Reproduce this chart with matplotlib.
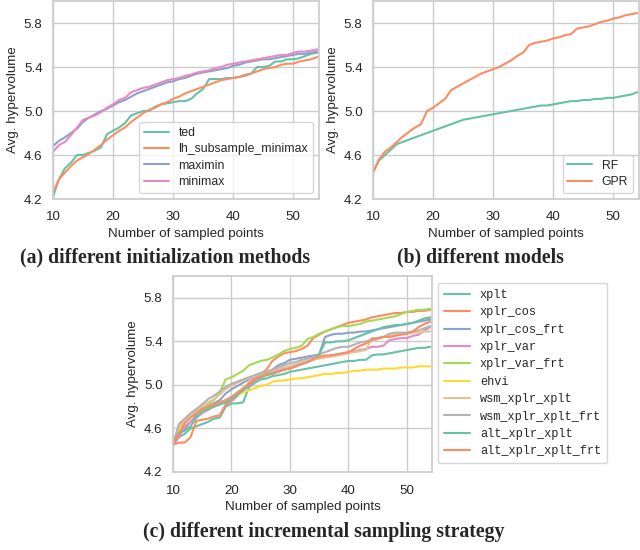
import numpy as np
import matplotlib
matplotlib.use("Agg")
import matplotlib.pyplot as plt
import seaborn as sns

sns.set_theme(style="whitegrid", palette="Set2")
plt.rcParams['font.family'] = ['Liberation Sans', 'DejaVu Sans']

x = list(range(10, 55))

# (a) initialization methods
ted = [4.22, 4.38, 4.48, 4.53, 4.60, 4.60, 4.62, 4.64, 4.67, 4.79, 4.82, 4.85, 4.89, 4.96, 4.98,
       5.00, 5.00, 5.04, 5.06, 5.07, 5.08, 5.09, 5.09, 5.11, 5.16, 5.20, 5.29, 5.29, 5.29, 5.30,
       5.30, 5.31, 5.32, 5.34, 5.40, 5.40, 5.41, 5.45, 5.45, 5.47, 5.47, 5.48, 5.50, 5.52, 5.53]
lh_subsample_minimax = [4.26, 4.38, 4.44, 4.50, 4.55, 4.58, 4.61, 4.65, 4.69, 4.74, 4.78, 4.82, 4.85, 4.90, 4.94,
                        4.98, 5.01, 5.03, 5.06, 5.08, 5.11, 5.13, 5.16, 5.18, 5.20, 5.22, 5.24, 5.26, 5.28, 5.29,
                        5.30, 5.31, 5.33, 5.34, 5.36, 5.38, 5.39, 5.40, 5.42, 5.43, 5.43, 5.45, 5.46, 5.47, 5.49]
maximin = [4.68, 4.73, 4.76, 4.80, 4.84, 4.90, 4.94, 4.97, 5.00, 5.02, 5.05, 5.08, 5.10, 5.13, 5.16,
           5.18, 5.20, 5.22, 5.24, 5.26, 5.27, 5.29, 5.30, 5.32, 5.34, 5.35, 5.36, 5.37, 5.38, 5.39,
           5.41, 5.42, 5.44, 5.45, 5.46, 5.47, 5.47, 5.48, 5.49, 5.50, 5.51, 5.52, 5.52, 5.53, 5.54]
minimax = [4.63, 4.69, 4.72, 4.78, 4.85, 4.92, 4.94, 4.96, 4.99, 5.03, 5.06, 5.10, 5.12, 5.17, 5.19,
           5.21, 5.22, 5.24, 5.26, 5.28, 5.29, 5.30, 5.32, 5.33, 5.35, 5.36, 5.37, 5.39, 5.40, 5.42,
           5.43, 5.44, 5.45, 5.46, 5.47, 5.48, 5.49, 5.50, 5.51, 5.51, 5.53, 5.54, 5.54, 5.55, 5.56]

# (b) models
RF = [4.44, 4.55, 4.60, 4.65, 4.70, 4.72, 4.74, 4.76, 4.78, 4.80, 4.82, 4.84, 4.86, 4.88, 4.90,
      4.92, 4.93, 4.94, 4.95, 4.96, 4.97, 4.98, 4.99, 5.00, 5.01, 5.02, 5.03, 5.04, 5.05, 5.05,
      5.06, 5.07, 5.08, 5.09, 5.09, 5.10, 5.10, 5.11, 5.11, 5.12, 5.12, 5.13, 5.14, 5.15, 5.17]
GPR = [4.44, 4.56, 4.63, 4.67, 4.72, 4.77, 4.81, 4.85, 4.88, 5.00, 5.03, 5.07, 5.11, 5.19, 5.22,
       5.25, 5.28, 5.31, 5.34, 5.36, 5.38, 5.40, 5.43, 5.46, 5.50, 5.53, 5.60, 5.62, 5.63, 5.64,
       5.66, 5.67, 5.69, 5.70, 5.75, 5.76, 5.77, 5.79, 5.81, 5.82, 5.84, 5.85, 5.87, 5.88, 5.89]

# (c) incremental sampling strategies
xplt = [4.45, 4.52, 4.55, 4.60, 4.62, 4.64, 4.66, 4.69, 4.70, 4.80, 4.83, 4.83, 4.84, 4.98, 5.02,
        5.05, 5.06, 5.08, 5.09, 5.10, 5.12, 5.13, 5.14, 5.15, 5.16, 5.17, 5.18, 5.19, 5.20, 5.21,
        5.22, 5.22, 5.23, 5.23, 5.27, 5.28, 5.28, 5.29, 5.30, 5.31, 5.32, 5.33, 5.34, 5.34, 5.35]
xplr_cos = [4.45, 4.47, 4.47, 4.52, 4.67, 4.68, 4.69, 4.71, 4.72, 4.82, 4.85, 4.90, 4.96, 5.02, 5.06,
            5.10, 5.14, 5.22, 5.26, 5.29, 5.30, 5.31, 5.33, 5.36, 5.43, 5.46, 5.49, 5.51, 5.53, 5.55,
            5.57, 5.58, 5.59, 5.60, 5.62, 5.63, 5.64, 5.65, 5.66, 5.66, 5.67, 5.67, 5.68, 5.68, 5.69]
xplr_cos_frt = [4.45, 4.55, 4.60, 4.66, 4.72, 4.76, 4.80, 4.83, 4.86, 4.92, 4.96, 4.99, 5.02, 5.05, 5.08,
                5.10, 5.11, 5.14, 5.18, 5.20, 5.23, 5.24, 5.25, 5.26, 5.27, 5.28, 5.44, 5.46, 5.47, 5.47,
                5.48, 5.48, 5.49, 5.49, 5.50, 5.51, 5.52, 5.53, 5.54, 5.55, 5.56, 5.57, 5.58, 5.59, 5.60]
xplr_var = [4.45, 4.52, 4.62, 4.66, 4.70, 4.74, 4.77, 4.80, 4.82, 4.84, 4.86, 4.90, 4.95, 4.99, 5.04,
            5.07, 5.09, 5.11, 5.13, 5.15, 5.17, 5.18, 5.20, 5.21, 5.23, 5.25, 5.26, 5.27, 5.28, 5.29,
            5.30, 5.31, 5.32, 5.33, 5.35, 5.35, 5.36, 5.41, 5.42, 5.43, 5.43, 5.45, 5.46, 5.50, 5.53]
xplr_var_frt = [4.45, 4.60, 4.66, 4.70, 4.74, 4.78, 4.82, 4.86, 4.93, 5.05, 5.07, 5.10, 5.13, 5.18, 5.20,
                5.22, 5.23, 5.25, 5.28, 5.31, 5.33, 5.34, 5.36, 5.42, 5.44, 5.47, 5.49, 5.51, 5.53, 5.54,
                5.54, 5.55, 5.56, 5.58, 5.59, 5.60, 5.61, 5.62, 5.63, 5.65, 5.67, 5.68, 5.69, 5.69, 5.70]
ehvi = [4.45, 4.58, 4.67, 4.71, 4.74, 4.76, 4.79, 4.81, 4.84, 4.86, 4.88, 4.91, 4.93, 4.95, 4.97,
        4.99, 5.00, 5.03, 5.04, 5.04, 5.05, 5.06, 5.06, 5.07, 5.08, 5.09, 5.10, 5.10, 5.11, 5.11,
        5.12, 5.13, 5.13, 5.14, 5.14, 5.14, 5.15, 5.15, 5.15, 5.16, 5.16, 5.16, 5.17, 5.17, 5.17]
wsm_xplr_xplt = [4.45, 4.62, 4.68, 4.72, 4.76, 4.80, 4.84, 4.87, 4.91, 4.96, 4.99, 5.02, 5.04, 5.06, 5.08,
                 5.10, 5.11, 5.13, 5.15, 5.16, 5.17, 5.19, 5.21, 5.22, 5.23, 5.24, 5.25, 5.26, 5.27, 5.28,
                 5.29, 5.30, 5.31, 5.32, 5.43, 5.43, 5.44, 5.45, 5.46, 5.47, 5.47, 5.48, 5.48, 5.49, 5.49]
wsm_xplr_xplt_frt = [4.45, 4.64, 4.69, 4.74, 4.78, 4.82, 4.87, 4.90, 4.94, 4.98, 5.01, 5.03, 5.05, 5.07, 5.09,
                     5.11, 5.12, 5.14, 5.16, 5.18, 5.20, 5.21, 5.23, 5.24, 5.26, 5.28, 5.30, 5.32, 5.34, 5.35,
                     5.35, 5.37, 5.39, 5.40, 5.41, 5.42, 5.44, 5.47, 5.48, 5.48, 5.48, 5.49, 5.50, 5.52, 5.54]
alt_xplr_xplt = [4.45, 4.56, 4.58, 4.62, 4.70, 4.76, 4.78, 4.80, 4.82, 4.84, 4.87, 4.91, 4.95, 5.00, 5.05,
                 5.07, 5.09, 5.10, 5.12, 5.14, 5.15, 5.17, 5.19, 5.21, 5.24, 5.28, 5.39, 5.39, 5.40, 5.40,
                 5.41, 5.43, 5.45, 5.47, 5.49, 5.51, 5.53, 5.54, 5.55, 5.55, 5.56, 5.57, 5.59, 5.61, 5.62]
alt_xplr_xplt_frt = [4.45, 4.55, 4.65, 4.70, 4.74, 4.78, 4.80, 4.82, 4.84, 4.86, 4.89, 4.93, 4.97, 5.01, 5.05,
                     5.08, 5.10, 5.11, 5.12, 5.14, 5.15, 5.17, 5.19, 5.21, 5.24, 5.26, 5.27, 5.27, 5.28, 5.29,
                     5.30, 5.33, 5.36, 5.38, 5.42, 5.43, 5.44, 5.44, 5.45, 5.46, 5.47, 5.49, 5.53, 5.56, 5.58]

series_a = {"ted": ted, "lh_subsample_minimax": lh_subsample_minimax,
            "maximin": maximin, "minimax": minimax}
series_b = {"RF": RF, "GPR": GPR}
series_c = {"xplt": xplt, "xplr_cos": xplr_cos, "xplr_cos_frt": xplr_cos_frt,
            "xplr_var": xplr_var, "xplr_var_frt": xplr_var_frt, "ehvi": ehvi,
            "wsm_xplr_xplt": wsm_xplr_xplt, "wsm_xplr_xplt_frt": wsm_xplr_xplt_frt,
            "alt_xplr_xplt": alt_xplr_xplt, "alt_xplr_xplt_frt": alt_xplr_xplt_frt}

yticks = [4.2, 4.6, 5.0, 5.4, 5.8]
xticks = [10, 20, 30, 40, 50]
captions = ["(a) different initialization methods", "(b) different models",
            "(c) different incremental sampling strategy"]

colors = sns.color_palette("Set2", 8)

fig = plt.figure(figsize=(6.4, 5.5), dpi=100)
W, H = 640, 550

def make_ax(l, t, r, b):
    return fig.add_axes([l / W, 1 - b / H, (r - l) / W, (b - t) / H])

def style(ax):
    ax.set_xlim(10, 54.3)
    ax.set_ylim(4.2, 6.0)
    ax.set_xticks(xticks)
    ax.set_yticks(yticks)
    ax.tick_params(axis='x', labelsize=9.6, pad=3)
    ax.tick_params(axis='y', labelsize=9.6, pad=1.5)
    ax.set_xlabel("Number of sampled points", fontsize=9.6, labelpad=3)
    ax.set_ylabel("Avg. hypervolume", fontsize=9.6, labelpad=3.5)
    for s in ax.spines.values():
        s.set_color('#cccccc')

ax1 = make_ax(53, 1, 319, 199)
for i, (k, v) in enumerate(series_a.items()):
    ax1.plot(x, v, color=colors[i % 8], lw=1.5, label=k)
style(ax1)
ax1.legend(loc="lower right", fontsize=8.8, handlelength=2.0, borderpad=0.4,
           labelspacing=0.35, frameon=True)

ax2 = make_ax(373, 1, 639, 199)
for i, (k, v) in enumerate(series_b.items()):
    ax2.plot(x, v, color=colors[i % 8], lw=1.5, label=k)
style(ax2)
ax2.legend(loc="lower right", fontsize=8.8, handlelength=2.0, borderpad=0.4,
           labelspacing=0.35)

ax3 = make_ax(173, 276, 432, 472)
for i, (k, v) in enumerate(series_c.items()):
    ax3.plot(x, v, color=colors[i % 8], lw=1.5, label=k)
style(ax3)
ax3.legend(loc="upper left", bbox_to_anchor=((438 - 173) / 259, 1.0 - 7 / 196),
           borderaxespad=0.0,
           prop={'family': 'Liberation Mono', 'size': 8.6},
           handlelength=2.2, borderpad=0.5, labelspacing=0.45)

cap_kw = dict(ha='center', va='baseline', fontsize=14.2, fontweight='bold',
              family=['Liberation Serif', 'DejaVu Serif'])
fig.text(165 / W, 1 - 262 / H, captions[0], **cap_kw)
fig.text(480 / W, 1 - 262 / H, captions[1], **cap_kw)
fig.text(324 / W, 1 - 537 / H, captions[2], **cap_kw)

fig.savefig("out.png", dpi=100)
